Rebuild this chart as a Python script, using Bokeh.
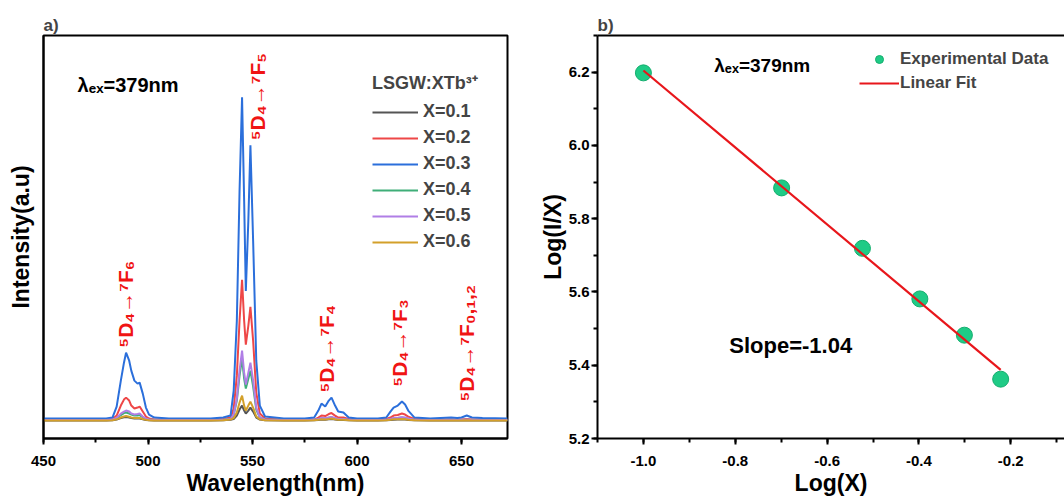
import numpy as np
from bokeh.plotting import figure
from bokeh.layouts import row
from bokeh.models import (Range1d, SingleIntervalTicker, FixedTicker, Legend, LegendItem,
                          Label, LinearAxis, PrintfTickFormatter)
from bokeh.embed import file_html
from bokeh.resources import INLINE

FONT = "Liberation Sans"

# ---------------- panel a) data: emission spectra ----------------
wavelength = [450, 470, 480,
              483, 485, 487, 488.5, 489.5, 491, 492, 493.5, 495, 496, 497.5, 499, 500.5, 503,
              510, 530, 536,
              539.5, 541, 542.5, 543.8, 545, 546, 546.8, 548, 549, 550.3, 551.8, 553.5, 556,
              565, 575,
              579.5, 581.5, 583, 584.8, 586.5, 587.8, 589.5, 591, 593.5, 596,
              600, 610,
              614, 616, 617.5, 619.5, 621.5, 623, 624.5, 627.5,
              635, 645, 648, 650, 652.5, 655, 660, 672]

x01 = [0, 0, 0,
       0.3, 1, 2.5, 3.3, 3.5, 3, 2.5, 2, 2, 2, 1.2, 0.5, 0.2, 0,
       0, 0, 0.3,
       0.8, 1.5, 5, 11, 15, 10, 7, 10, 13, 9, 3, 1, 0.3,
       0, 0,
       0.2, 0.6, 1, 0.8, 1.2, 1.5, 1, 0.6, 0.5, 0.2,
       0, 0,
       0.2, 0.6, 0.9, 1, 1.2, 1, 0.6, 0.2,
       0, 0, 0, 0, 0.3, 0, 0, 0]

x02 = [1, 1, 1,
       1.5, 5, 15, 21, 23, 20, 15, 12, 13, 14, 9, 4, 2, 1,
       1, 1, 1.5,
       3, 12, 45, 100, 141, 100, 76, 95, 114, 80, 28, 7, 2,
       1, 1,
       1, 3, 5, 4.5, 6.5, 7.5, 5, 3, 3, 1.5,
       1, 1,
       1.5, 3, 5, 5.5, 7, 6, 4, 1.5,
       1, 1, 1, 1, 1.5, 1, 1, 1]

x03 = [2, 2, 2,
       3, 14, 40, 58, 68, 60, 50, 40, 37, 38, 27, 13, 6, 3,
       2, 2, 3,
       5, 30, 100, 230, 324, 220, 130, 200, 276, 180, 60, 15, 4,
       2, 2,
       3, 10, 17, 14, 20, 23, 15, 9, 8, 3,
       2, 2,
       3, 9, 13, 15, 19, 16, 10, 3,
       2, 3, 2.5, 3, 5, 3, 2.5, 2]

x04 = [0.5, 0.5, 0.5,
       0.8, 2, 5.5, 7.5, 8, 7, 6, 5, 5, 5.5, 3.5, 1.5, 1, 0.5,
       0.5, 0.5, 0.8,
       1.5, 5.5, 20, 45, 62, 42, 32, 42, 50, 34, 11, 3, 1,
       0.5, 0.5,
       0.6, 1.3, 2.2, 2, 2.8, 3.2, 2.2, 1.3, 1.2, 0.6,
       0.5, 0.5,
       0.6, 1.3, 2.2, 2.5, 3, 2.6, 1.8, 0.7,
       0.5, 0.5, 0.5, 0.5, 0.8, 0.5, 0.5, 0.5]

x05 = [0.5, 0.5, 0.5,
       1, 2.5, 7, 9, 10, 9, 7, 6, 6.5, 7, 4, 2, 1, 0.5,
       0.5, 0.5, 0.8,
       1.5, 6, 22, 50, 70, 48, 36, 48, 58, 40, 13, 3, 1,
       0.5, 0.5,
       0.7, 1.5, 2.5, 2.2, 3, 3.5, 2.5, 1.5, 1.5, 0.7,
       0.5, 0.5,
       0.7, 1.5, 2.5, 2.7, 3.3, 3, 2, 0.8,
       0.5, 0.5, 0.5, 0.5, 1, 0.5, 0.5, 0.5]

x06 = [0, 0, 0,
       0.4, 1.2, 3, 4, 4.5, 3.8, 3, 2.5, 2.5, 2.5, 1.5, 0.7, 0.3, 0,
       0, 0, 0.3,
       1, 2.5, 8, 18, 25, 15, 10, 15, 19, 13, 4, 1.2, 0.3,
       0, 0,
       0.3, 0.8, 1.3, 1.1, 1.6, 2, 1.3, 0.8, 0.7, 0.3,
       0, 0,
       0.3, 0.8, 1.2, 1.3, 1.5, 1.3, 0.8, 0.3,
       0, 0, 0, 0, 0.4, 0, 0, 0]

series = [x01, x02, x03, x04, x05, x06]
series_labels = ["X=0.1", "X=0.2", "X=0.3", "X=0.4", "X=0.5", "X=0.6"]
series_colors = ["#555555", "#EE4747", "#2B6FDB", "#3FAE78", "#B07EE6", "#D3A02A"]

transitions = ["\u2075D\u2084\u2192\u2077F\u2086", "\u2075D\u2084\u2192\u2077F\u2085",
               "\u2075D\u2084\u2192\u2077F\u2084", "\u2075D\u2084\u2192\u2077F\u2083",
               "\u2075D\u2084\u2192\u2077F\u2080,\u2081,\u2082"]

# ---------------- panel b) data ----------------
log_x = [-1.0, -0.699, -0.523, -0.398, -0.301, -0.222]
log_ix = [6.198, 5.884, 5.719, 5.581, 5.482, 5.362]
slope_text = "Slope=-1.04"
lambda_text = "\u03bb\u2091\u2093=379nm"


def style_axis(ax, size="15px"):
    ax.axis_line_width = 2
    ax.axis_line_color = "black"
    ax.major_tick_line_width = 2
    ax.minor_tick_line_width = 2
    ax.major_tick_in = 0
    ax.major_tick_out = 6
    ax.minor_tick_in = 0
    ax.minor_tick_out = 4
    ax.major_label_text_font = FONT
    ax.major_label_text_font_style = "bold"
    ax.major_label_text_font_size = size
    ax.major_label_text_color = "black"
    ax.axis_label_text_font = FONT
    ax.axis_label_text_font_style = "bold"
    ax.axis_label_text_font_size = "23px"
    ax.axis_label_text_color = "black"


def style_title(p):
    p.title.text_font = FONT
    p.title.text_font_style = "bold"
    p.title.text_font_size = "17px"
    p.title.align = "left"
    p.title.standoff = 2
    p.title.offset = 0


# ---------------- panel a) ----------------
p1 = figure(width=536, height=498, title="a)",
            x_range=Range1d(450, 672), y_range=Range1d(-18, 386),
            output_backend="svg", toolbar_location=None,
            min_border_left=43, min_border_right=29, min_border_top=35, min_border_bottom=58)
style_title(p1)
p1.grid.visible = False
p1.outline_line_color = "black"
p1.outline_line_width = 2
p1.outline_line_alpha = 1

renderers = []
for ys, col in zip(series, series_colors):
    r = p1.line(wavelength, ys, line_color=col, line_width=2)
    renderers.append(r)

p1.xaxis.ticker = SingleIntervalTicker(interval=50, num_minor_ticks=2)
p1.xaxis.axis_label = "Wavelength(nm)"
p1.xaxis.major_label_standoff = 11
p1.xaxis.axis_label_standoff = 1
style_axis(p1.xaxis[0])
p1.yaxis.ticker = FixedTicker(ticks=[])
p1.yaxis.axis_label = "Intensity(a.u)"
p1.yaxis.axis_label_standoff = 10
style_axis(p1.yaxis[0])

leg1 = Legend(items=[LegendItem(label=l, renderers=[r]) for l, r in zip(series_labels, renderers)],
              title="LSGW:XTb\u00b3\u207a", location=(329, 186),
              title_text_font=FONT, title_text_font_style="bold", title_text_font_size="18px",
              label_text_font=FONT, label_text_font_style="bold", label_text_font_size="18px",
              glyph_width=46, glyph_height=20, label_height=20, spacing=5, padding=0, margin=0,
              label_standoff=5, title_standoff=7,
              border_line_color=None, background_fill_alpha=0)
p1.add_layout(leg1)

p1.add_layout(Label(x=466.3, y=336, text=lambda_text, text_font=FONT, text_font_style="bold",
                    text_font_size="20px", text_baseline="middle", text_align="left",
                    text_color="black"))

ann_x = [489, 552.3, 585.4, 620.1, 652.4]
ann_y = [73, 281, 28, 34, 19]
for t, ax_, ay_ in zip(transitions, ann_x, ann_y):
    p1.add_layout(Label(x=ax_, y=ay_, text=t, angle=90, angle_units="deg",
                        text_align="left", text_baseline="middle",
                        text_font=FONT, text_font_style="bold", text_font_size="21px",
                        text_color="#F01414"))

# ---------------- panel b) ----------------
slope, intercept = np.polyfit(log_x, log_ix, 1)
fit_x = [min(log_x), max(log_x)]
fit_y = [slope * v + intercept for v in fit_x]

p2 = figure(width=528, height=498, title="b)",
            x_range=Range1d(-1.1, -0.083), y_range=Range1d(5.2, 6.3),
            output_backend="svg", toolbar_location=None,
            min_border_left=60, min_border_right=0, min_border_top=35, min_border_bottom=58)
style_title(p2)
p2.grid.visible = False
p2.outline_line_color = None

pts = p2.scatter(log_x, log_ix, size=16, fill_color="#1FCB86", line_color="#14AE6E", line_width=1)
fit = p2.line(fit_x, fit_y, line_color="#E8161B", line_width=2.2)

p2.xaxis.ticker = SingleIntervalTicker(interval=0.2, num_minor_ticks=2)
p2.xaxis.formatter = PrintfTickFormatter(format="%.1f")
p2.xaxis.axis_label = "Log(X)"
p2.xaxis.major_label_standoff = 11
p2.xaxis.axis_label_standoff = 1
style_axis(p2.xaxis[0])
p2.yaxis.ticker = SingleIntervalTicker(interval=0.2, num_minor_ticks=2)
p2.yaxis.formatter = PrintfTickFormatter(format="%.1f")
p2.yaxis.axis_label = "Log(I/X)"
p2.yaxis.major_label_standoff = 2
p2.yaxis.axis_label_standoff = 0
style_axis(p2.yaxis[0])

top_ax = LinearAxis(ticker=FixedTicker(ticks=[]))
style_axis(top_ax)
top_ax.major_label_standoff = 0
p2.add_layout(top_ax, "above")

leg2 = Legend(items=[LegendItem(label="Experimental Data", renderers=[pts]),
                     LegendItem(label="Linear Fit", renderers=[fit])],
              location=(262, 345),
              label_text_font=FONT, label_text_font_style="bold", label_text_font_size="17px",
              glyph_width=40, glyph_height=20, label_height=20, spacing=4, padding=0, margin=0,
              label_standoff=1, border_line_color=None, background_fill_alpha=0)
p2.add_layout(leg2)

p2.add_layout(Label(x=-0.8457, y=6.218, text=lambda_text, text_font=FONT, text_font_style="bold",
                    text_font_size="19px", text_baseline="middle", text_align="left",
                    text_color="black"))
p2.add_layout(Label(x=-0.813, y=5.454, text=slope_text, text_font=FONT, text_font_style="bold",
                    text_font_size="22px", text_baseline="middle", text_align="left",
                    text_color="black"))

layout = row(p1, p2)
open("out.html", "w").write(file_html(layout, INLINE))
